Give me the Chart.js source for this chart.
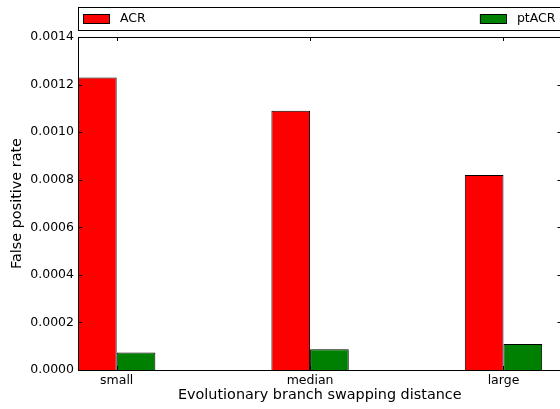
<!DOCTYPE html>
<html>
<head>
<meta charset="utf-8">
<script src="https://cdn.jsdelivr.net/npm/chart.js@4/dist/chart.umd.min.js"></script>
<style>
  html, body { margin: 0; padding: 0; background: #fff; }
  #wrap { width: 560px; height: 409px; overflow: hidden; }
  #box { width: 570px; height: 409px; position: relative; }
</style>
</head>
<body>
<div id="wrap"><div id="box"><canvas id="fpr-chart"></canvas></div></div>
<script>
const categories = ['small', 'median', 'large'];
const acrRates = [0.00123, 0.00109, 0.00082];
const ptAcrRates = [0.000074, 0.000087, 0.000109];
const yTicks = [0, 0.0002, 0.0004, 0.0006, 0.0008, 0.0010, 0.0012, 0.0014];

Chart.defaults.font.family = "'DejaVu Sans', sans-serif";
Chart.defaults.color = '#000';

function toPoints(values) {
    return values.map((v, i) => ({ x: i, y: v }));
}

// axes frame, inward tick marks and the two-column legend strip above the plot
const frame = {
    id: 'frame',
    afterDraw(chart) {
        const { ctx, chartArea: a, scales: { x, y } } = chart;
        ctx.save();
        ctx.strokeStyle = '#000';
        ctx.lineWidth = 1;
        ctx.strokeRect(Math.round(a.left) + 0.5, Math.round(a.top) + 0.5,
            Math.round(a.right - a.left), Math.round(a.bottom - a.top));

        ctx.beginPath();
        y.ticks.forEach((t, i) => {
            const py = Math.round(y.getPixelForTick(i)) + 0.5;
            ctx.moveTo(a.left, py); ctx.lineTo(a.left + 4, py);
            ctx.moveTo(a.right, py); ctx.lineTo(a.right - 4, py);
        });
        x.ticks.forEach((t, i) => {
            const px = Math.round(x.getPixelForTick(i)) + 0.5;
            ctx.moveTo(px, a.top); ctx.lineTo(px, a.top + 4);
            ctx.moveTo(px, a.bottom); ctx.lineTo(px, a.bottom - 4);
        });
        ctx.stroke();

        // legend
        const top = 7.5, bottom = 30.5;
        ctx.strokeRect(Math.round(a.left) + 0.5, top, Math.round(a.right - a.left), bottom - top);
        ctx.font = "12.5px 'DejaVu Sans'";
        ctx.textBaseline = 'middle';
        const mid = (top + bottom) / 2;
        const sets = chart.data.datasets;
        const drawItem = (ds, sx) => {
            ctx.fillStyle = ds.backgroundColor;
            ctx.fillRect(sx, mid - 4.5, 26, 9);
            ctx.strokeRect(sx + 0.5, mid - 4.5, 26, 9);
            ctx.fillStyle = '#000';
            ctx.fillText(ds.label, sx + 37, mid);
        };
        drawItem(sets[0], a.left + 5);
        const w = ctx.measureText(sets[1].label).width;
        drawItem(sets[1], a.right - 6 - w - 37);
        ctx.restore();
    }
};

new Chart(document.getElementById('fpr-chart'), {
    type: 'bar',
    data: {
        datasets: [{
            label: 'ACR',
            data: toPoints(acrRates),
            backgroundColor: '#ff0000'
        }, {
            label: 'ptACR',
            data: toPoints(ptAcrRates),
            backgroundColor: '#008000'
        }]
    },
    options: {
        responsive: true,
        maintainAspectRatio: false,
        animation: false,
        layout: { padding: { top: 37, right: 8.5, left: 0, bottom: 0 } },
        plugins: { legend: { display: false }, tooltip: { enabled: false } },
        datasets: {
            bar: {
                categoryPercentage: 0.4,
                barPercentage: 1,
                borderWidth: 1,
                borderColor: '#000'
            }
        },
        scales: {
            x: {
                type: 'linear',
                offset: false,
                min: -0.2,
                max: 2.3,
                afterBuildTicks: s => { s.ticks = categories.map((c, i) => ({ value: i })); },
                afterFit: s => { s.height = 39; },
                grid: { display: false, drawTicks: false },
                border: { display: false },
                ticks: {
                    callback: v => categories[v],
                    font: { size: 12.5 },
                    padding: 3,
                    maxRotation: 0,
                    autoSkip: false
                },
                title: {
                    display: true,
                    text: 'Evolutionary branch swapping distance',
                    font: { size: 14.4 },
                    padding: { top: 0, bottom: 5 }
                }
            },
            y: {
                min: 0,
                max: 0.0014,
                afterBuildTicks: s => { s.ticks = yTicks.map(v => ({ value: v })); },
                afterFit: s => { s.width = 78; },
                grid: { display: false, drawTicks: false },
                border: { display: false },
                ticks: {
                    callback: v => v.toFixed(4),
                    font: { size: 12.5 },
                    padding: 4
                },
                title: {
                    display: true,
                    text: 'False positive rate',
                    font: { size: 14.4 },
                    padding: { top: 9, bottom: 0 }
                }
            }
        }
    },
    plugins: [frame]
});
</script>
</body>
</html>
